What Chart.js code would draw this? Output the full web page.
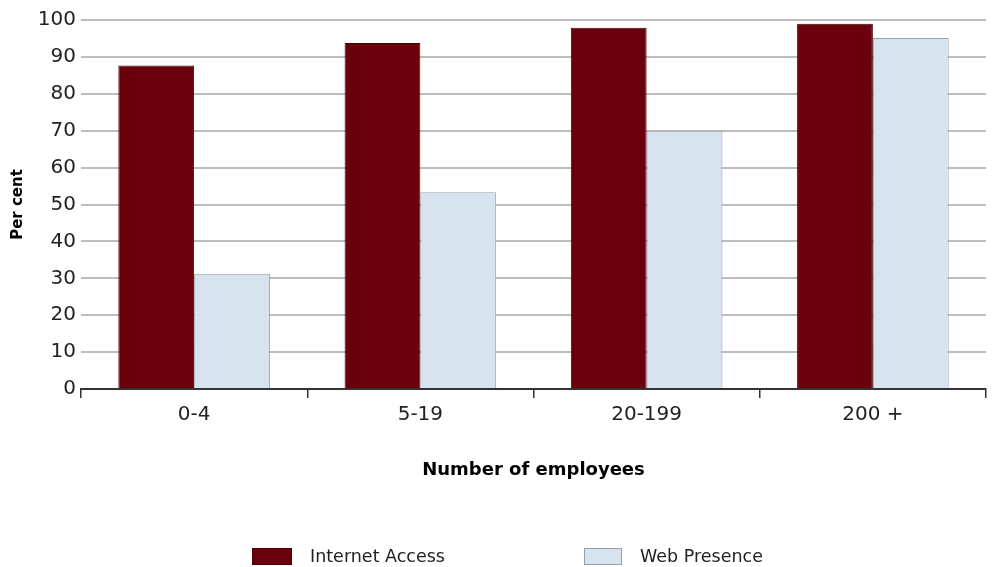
<!DOCTYPE html>
<html>
<head>
<meta charset="utf-8">
<script src="https://cdn.jsdelivr.net/npm/chart.js@4/dist/chart.umd.min.js"></script>
<style>
  html, body { margin: 0; padding: 0; background: #ffffff; }
  #wrap { width: 993px; height: 567px; position: relative; }
</style>
</head>
<body>
<div id="wrap"><canvas id="c" width="993" height="567"></canvas></div>
<script>
const categories = ['0-4', '5-19', '20-199', '200 +'];
const internetAccess = [87.7, 93.8, 97.9, 99.0];
const webPresence = [31.2, 53.3, 70.0, 95.1];
const seriesNames = ['Internet Access', 'Web Presence'];
const yTicks = [0, 10, 20, 30, 40, 50, 60, 70, 80, 90, 100];

const legendPlugin = {
  id: 'customLegend',
  afterDraw(chart) {
    const ctx = chart.ctx;
    const items = [
      { x: 252, w: 40 },
      { x: 584, w: 38 }
    ];
    ctx.save();
    ctx.font = '17.5px "DejaVu Sans"';
    ctx.textBaseline = 'middle';
    ctx.textAlign = 'left';
    chart.data.datasets.forEach((ds, i) => {
      const it = items[i];
      ctx.fillStyle = ds.backgroundColor;
      ctx.fillRect(it.x, 548, it.w, 17);
      ctx.strokeStyle = ds.borderColor;
      ctx.lineWidth = 1;
      ctx.strokeRect(it.x + 0.5, 548.5, it.w - 1, 16);
      ctx.fillStyle = '#222';
      ctx.fillText(ds.label, it.x + it.w + 18, 557);
    });
    ctx.restore();
  }
};

new Chart(document.getElementById('c'), {
  type: 'bar',
  data: {
    labels: categories,
    datasets: [
      {
        label: seriesNames[0],
        data: internetAccess,
        backgroundColor: '#69000b',
        borderColor: '#4a0007',
        borderWidth: 1,
        categoryPercentage: 0.67,
        barPercentage: 1.0
      },
      {
        label: seriesNames[1],
        data: webPresence,
        backgroundColor: '#d7e3ee',
        borderColor: '#9a9fa6',
        borderWidth: 1,
        categoryPercentage: 0.67,
        barPercentage: 1.0
      }
    ]
  },
  options: {
    responsive: false,
    animation: false,
    layout: { padding: { left: 0, right: 7, top: 20, bottom: 60 } },
    plugins: {
      legend: { display: false },
      tooltip: { enabled: false }
    },
    scales: {
      x: {
        offset: true,
        grid: {
          display: true,
          offset: true,
          drawOnChartArea: false,
          drawTicks: true,
          tickLength: 9,
          color: '#333',
          lineWidth: 1.5
        },
        border: { display: true, color: '#333', width: 2 },
        ticks: {
          font: { family: '"DejaVu Sans"', size: 20 },
          color: '#222',
          padding: 5,
          maxRotation: 0
        },
        title: {
          display: true,
          text: 'Number of employees',
          font: { family: '"DejaVu Sans"', size: 18, weight: 'bold' },
          color: '#000',
          padding: { top: 0, bottom: 26 }
        },
        afterFit(scale) { scale.height = 118; }
      },
      y: {
        min: 0,
        max: 100,
        afterBuildTicks(scale) { scale.ticks = yTicks.map(v => ({ value: v })); },
        grid: {
          color: '#bdbdbd',
          lineWidth: 2,
          drawTicks: false
        },
        border: { display: false },
        ticks: {
          font: { family: '"DejaVu Sans"', size: 20 },
          color: '#222',
          padding: 5
        },
        title: {
          display: true,
          text: 'Per cent',
          font: { family: '"DejaVu Sans"', size: 15, weight: 'bold' },
          color: '#000',
          padding: { top: 9, bottom: 0 }
        },
        afterFit(scale) { scale.width = 81; }
      }
    }
  },
  plugins: [legendPlugin]
});
</script>
</body>
</html>
